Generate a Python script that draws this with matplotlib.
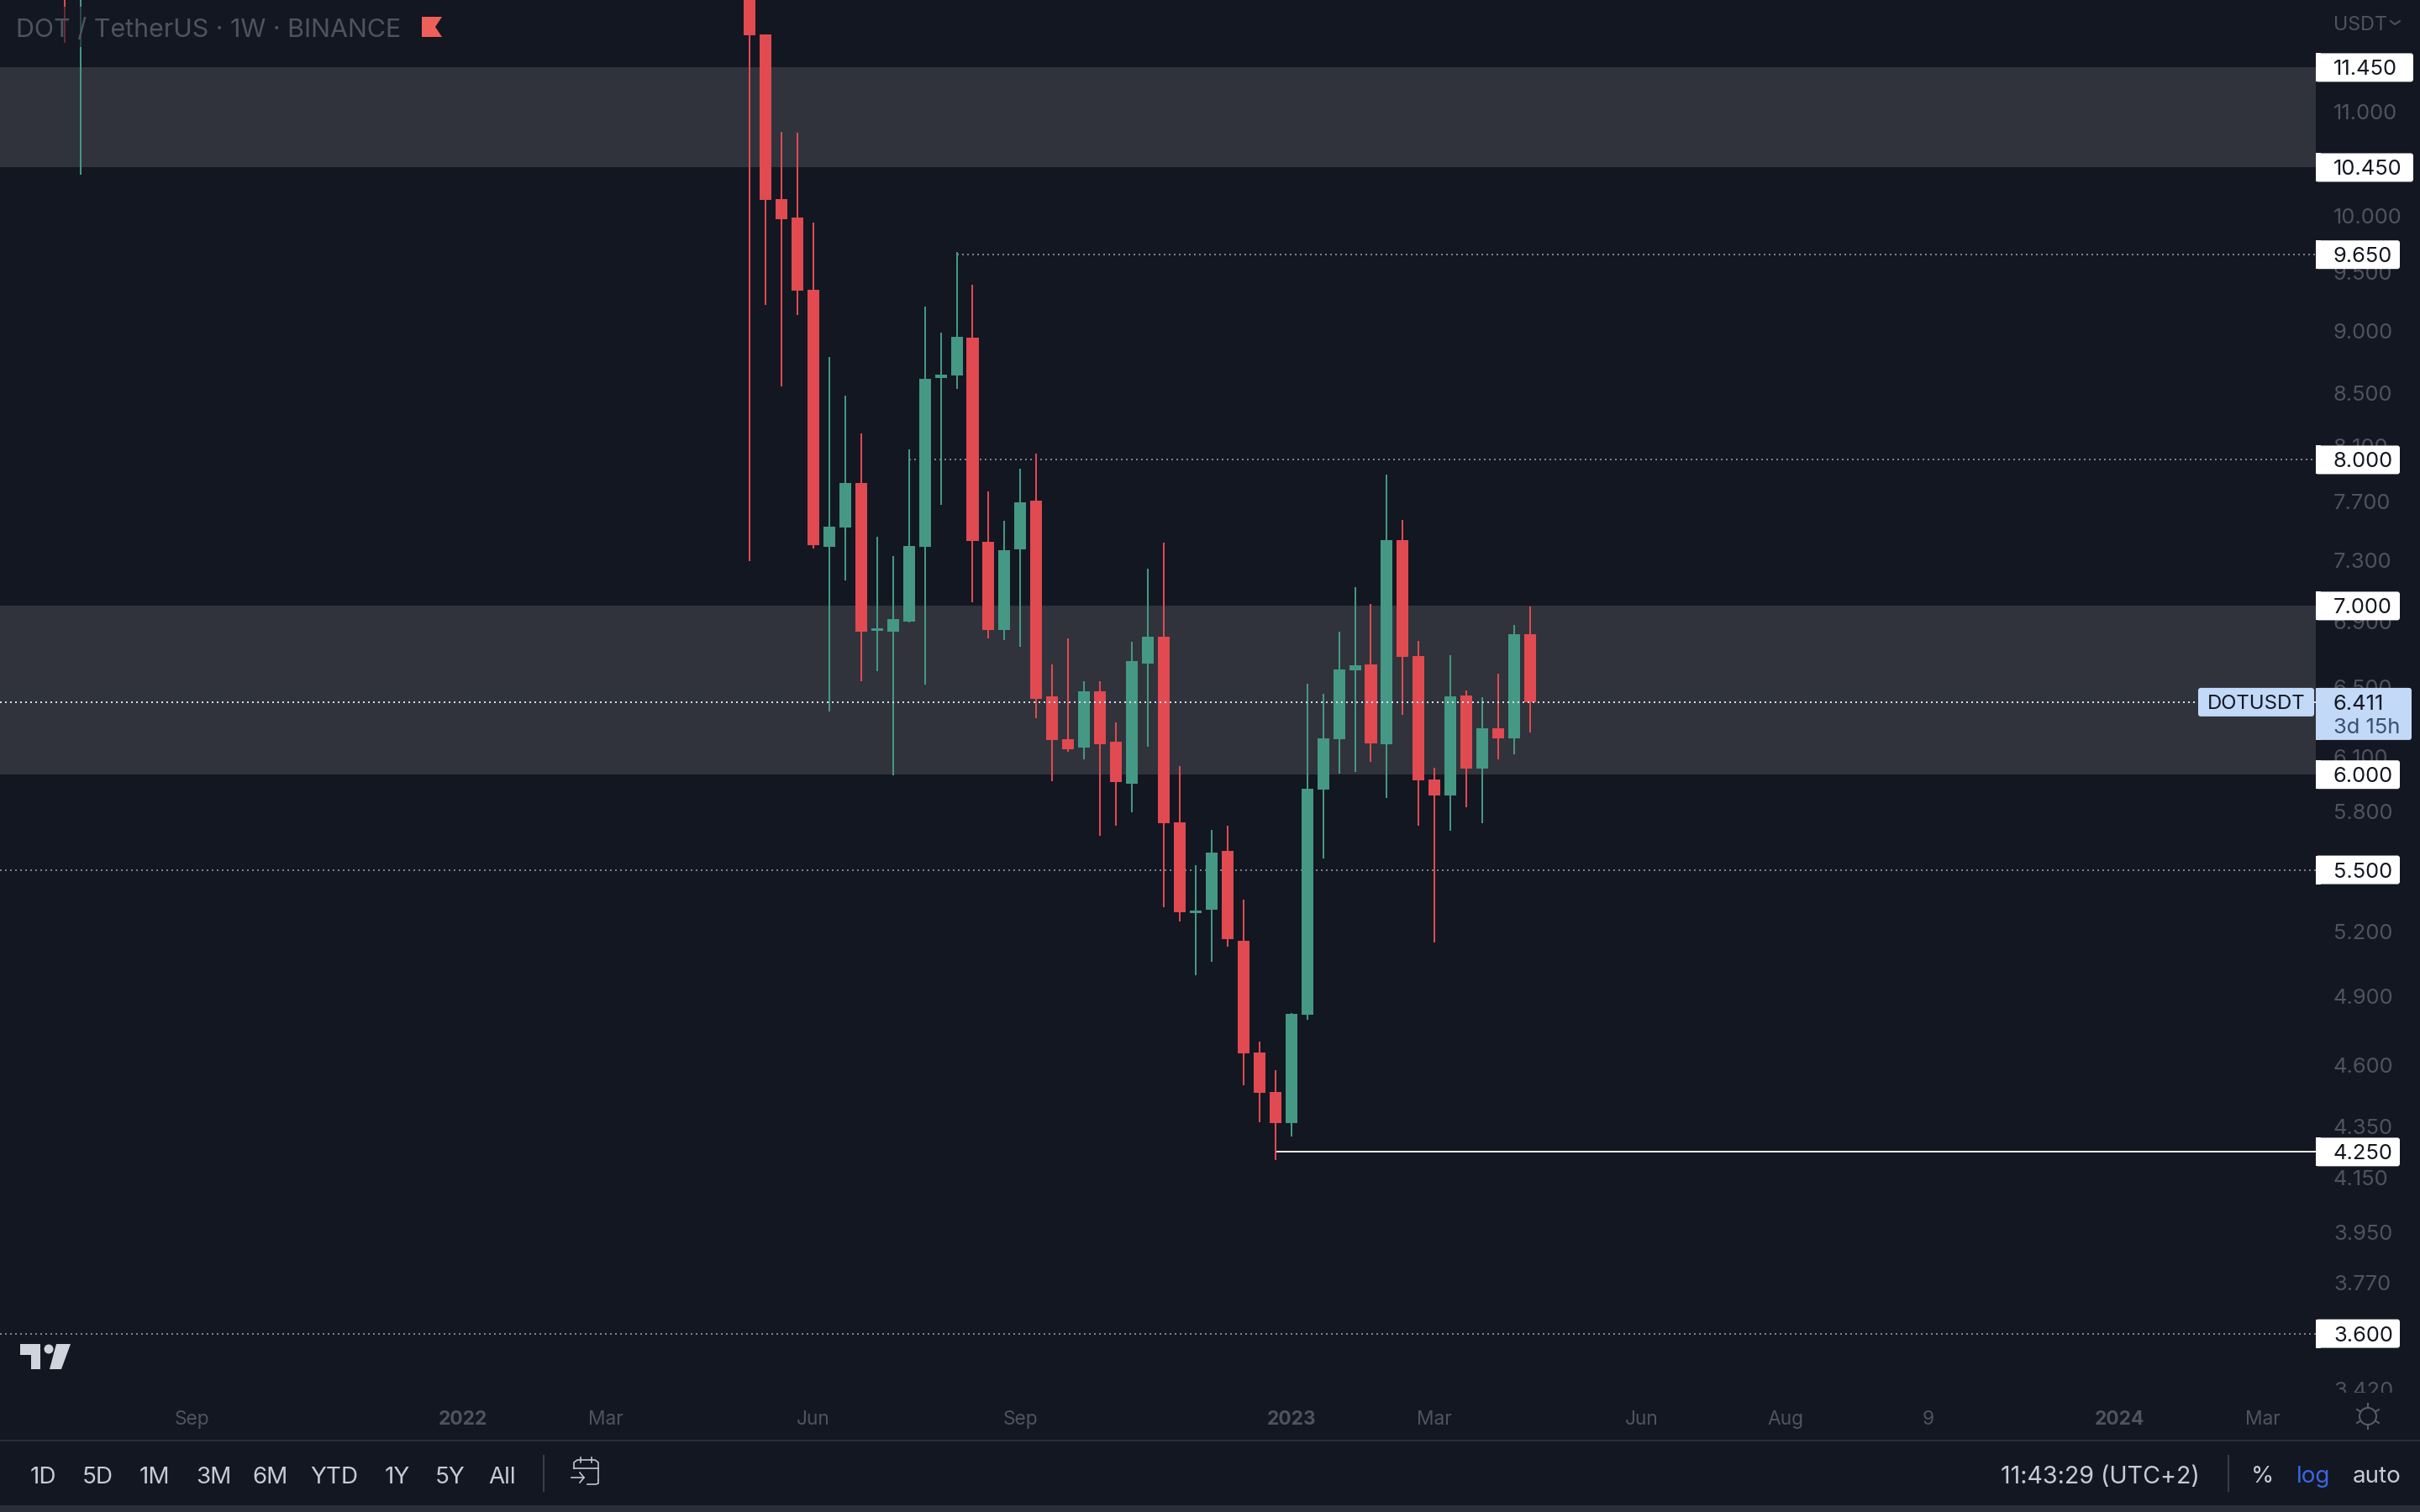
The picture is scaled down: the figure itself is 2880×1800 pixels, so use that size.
import matplotlib
matplotlib.use('Agg')
import matplotlib.pyplot as plt
from matplotlib.patches import Rectangle, FancyBboxPatch, Polygon, Circle
from matplotlib.lines import Line2D
from matplotlib.transforms import Affine2D, Bbox

plt.rcParams['font.family'] = ['Inter', 'DejaVu Sans']

# weekly candles, week number counted from the first candle of the main run
weeks = [-43, -42] + list(range(50))
opens = [14.60, 13.40, 13.20, 11.805, 10.156, 9.986, 9.348, 7.391, 7.523, 7.835, 6.845, 6.839,
         6.903, 7.391, 8.624, 8.644, 8.948, 7.425, 6.850, 7.374, 7.710, 6.447, 6.199, 6.152,
         6.477, 6.185, 5.952, 6.643, 6.808, 5.746, 5.288, 5.305, 5.598, 5.156, 4.656, 4.491,
         4.365, 4.819, 5.920, 6.199, 6.602, 6.638, 6.171, 7.436, 6.689, 5.975, 5.889, 6.452,
         6.035, 6.262, 6.204, 6.824]
highs = [15.00, 14.60, 13.90, 11.805, 10.799, 10.791, 9.940, 8.791, 8.486, 8.198, 7.459, 7.329,
         8.079, 9.206, 8.989, 9.677, 9.391, 7.775, 7.569, 7.938, 8.048, 6.638, 6.798, 6.537,
         6.537, 6.295, 6.777, 7.245, 7.419, 6.049, 5.525, 5.706, 5.728, 5.354, 4.702, 4.581,
         4.827, 6.522, 6.462, 6.839, 7.124, 7.015, 7.895, 7.575, 6.782, 6.040, 6.694, 6.482,
         6.442, 6.582, 6.882, 6.999]
lows = [11.71, 10.38, 7.295, 9.220, 8.558, 9.135, 7.380, 6.358, 7.167, 6.537, 6.597, 5.998,
        6.897, 6.517, 7.680, 8.538, 7.026, 6.798, 6.787, 6.746, 6.319, 5.966, 6.128, 6.086,
        5.676, 5.728, 5.799, 6.157, 5.317, 5.248, 4.996, 5.058, 5.129, 4.518, 4.368, 4.220,
        4.312, 4.797, 5.559, 6.007, 6.017, 6.072, 5.875, 6.339, 5.728, 5.148, 5.702, 5.826,
        5.741, 6.086, 6.114, 6.238]
closes = [13.40, 14.50, 11.796, 10.148, 9.971, 9.341, 7.402, 7.528, 7.835, 6.839, 6.861, 6.919,
          7.397, 8.617, 8.651, 8.955, 7.431, 6.850, 7.368, 7.698, 6.432, 6.195, 6.143, 6.477,
          6.171, 5.961, 6.658, 6.808, 5.741, 5.293, 5.301, 5.589, 5.164, 4.652, 4.487, 4.365,
          4.823, 5.925, 6.204, 6.607, 6.633, 6.176, 7.436, 6.684, 5.970, 5.889, 6.447, 6.035,
          6.262, 6.204, 6.824, 6.411]

zones = [(10.45, 11.45), (6.0, 7.0)]
level_lines = [(13, 9.65), (10, 8.0), (-47.05, 5.5), (-47.05, 3.6)]
low_line = (33, 4.25)
last_price = 6.411

price_ticks = [11.0, 10.0, 9.5, 9.0, 8.5, 8.1, 7.7, 7.3, 6.9, 6.5, 6.1, 5.8, 5.2, 4.9, 4.6,
               4.35, 4.15, 3.95, 3.77, 3.42]
boxed_levels = [11.45, 10.45, 9.65, 8.0, 7.0, 6.0, 5.5, 4.25, 3.6]

time_weeks = [-35, -18, -9, 4, 17, 34, 43, 56, 65, 74, 86, 95]
time_labels = ['Sep', '2022', 'Mar', 'Jun', 'Sep', '2023', 'Mar', 'Jun', 'Aug', '9', '2024', 'Mar']
ranges = ['1D', '5D', '1M', '3M', '6M', 'YTD', '1Y', '5Y', 'All']
range_x = [51, 116, 184, 254, 322, 398, 473, 536, 598]

BG = '#131722'
ZONE = '#30333C'
GREEN = '#459883'
RED = '#E04A50'
MUTED = '#50535E'
LABEL = '#C8CBD4'
LAST = '#C3D9F8'
PX = 72 / 200  # one pixel in points

fig = plt.figure(figsize=(14.4, 9), dpi=200, facecolor=BG)
ax = fig.add_axes([0, 1 - 1658 / 1800, 2756 / 2880, 1658 / 1800], facecolor=BG)
ax.set_yscale('log')
ax.set_xlim(-47.05, 98.31)
ax.set_ylim(3.4106, 12.179)
for s in ax.spines.values():
    s.set_visible(False)

for low, high in zones:
    ax.axhspan(low, high, color=ZONE, lw=0, zorder=1)

dotted = (0, (1, 2))
for start, price in level_lines:
    ax.plot([start, 98.31], [price, price], color='#7E818A', lw=2 * PX, ls=dotted, zorder=2)
ax.plot([low_line[0], 98.31], [low_line[1], low_line[1]], color='#E8E8E8', lw=2 * PX, zorder=2)

for w, o, h, l, c in zip(weeks, opens, highs, lows, closes):
    col = GREEN if c >= o else RED
    ax.vlines(w, l, h, color=col, lw=2 * PX, zorder=3)
    ax.bar(w, abs(c - o), bottom=min(o, c), width=0.74, color=col, lw=0, zorder=4)

ax.axhline(last_price, color='#D4E0F7', lw=2 * PX, ls=dotted, zorder=5)

ax.yaxis.tick_right()
ax.set_yticks(price_ticks, ['%.3f' % p for p in price_ticks])
ax.minorticks_off()
ax.tick_params(axis='y', length=0, pad=21 * PX, labelcolor=MUTED, labelsize=9.2)
for t in ax.get_yticklabels():
    t.set_ha('left')
    t.set_clip_on(True)
    t.set_clip_box(Bbox([[2756, 142], [2880, 1800]]))

ax.set_xticks(time_weeks, time_labels)
ax.tick_params(axis='x', length=0, pad=21 * PX, labelcolor=MUTED, labelsize=8.2)
for t in ax.get_xticklabels():
    if t.get_text().startswith('20'):
        t.set_fontweight('bold')

# chrome is placed in image pixels, origin top left
px = Affine2D().scale(1 / 2880, -1 / 1800).translate(0, 1) + fig.transFigure


def rect(x0, y0, x1, y1, col, z=6, alpha=None):
    fig.add_artist(Rectangle((x0, y0), x1 - x0, y1 - y0, fc=col, ec='none', transform=px, zorder=z, alpha=alpha))


def label(x, y, s, col, size, ha='center', **kw):
    fig.text(x, y, s, color=col, fontsize=size, ha=ha, va='center_baseline', transform=px, zorder=8, **kw)


def price_y(price):
    return 1800 - ax.transData.transform((0, price))[1]


# title, sits on a faint veil over the wicks
rect(0, 8, 540, 56, BG, z=6, alpha=0.6)
label(19, 33, 'DOT / TetherUS · 1W · BINANCE', MUTED, 10.95, ha='left')
fig.add_artist(Polygon([(502, 20), (526, 20), (518, 32), (526, 44), (502, 44)], fc='#EF5F5A', ec='none',
                       transform=px, zorder=8))
label(2777, 27, 'USDT', MUTED, 8.4, ha='left')
fig.add_artist(Line2D([2845, 2850, 2856], [25, 29, 25], color=MUTED, lw=2 * PX, transform=px, zorder=8))

# boxed price levels
for p in boxed_levels:
    y = price_y(p)
    x1 = 2872 if p >= 10 else 2856
    fig.add_artist(FancyBboxPatch((2756, y - 17), x1 - 2756, 34, boxstyle='round,pad=0,rounding_size=3', fc='white',
                                  ec='none', transform=px, zorder=7))
    rect(2756, y - 17, 2762, y + 17, 'white', z=7)
    label(2777, y, '%.3f' % p, '#131722', 9.2, ha='left')

# last price
y = price_y(last_price)
fig.add_artist(FancyBboxPatch((2616, y - 17), 138, 34, boxstyle='round,pad=0,rounding_size=3', fc=LAST, ec='none',
                              transform=px, zorder=7))
fig.add_artist(FancyBboxPatch((2756, y - 17), 114, 62, boxstyle='round,pad=0,rounding_size=3', fc=LAST, ec='none',
                              transform=px, zorder=7))
rect(2756, y - 17, 2762, y + 45, LAST, z=7)
label(2685, y, 'DOTUSDT', '#131722', 8.6)
label(2777, y, '6.411', '#131722', 9.2, ha='left')
label(2777, y + 28, '3d 15h', '#3B4F6E', 9.2, ha='left')

# tradingview mark
for pts in ([(24, 1600), (48, 1600), (48, 1630), (37, 1630), (37, 1613), (24, 1613)],
            [(67, 1600), (84, 1600), (73, 1630), (59, 1630)]):
    fig.add_artist(Polygon(pts, fc='#D1D4DC', ec='none', transform=px, zorder=8))
fig.add_artist(Circle((58, 1606), 5.5, fc='#D1D4DC', ec='none', transform=px, zorder=8))

# sun icon
fig.add_artist(Circle((2818, 1686), 10, fc='none', ec='#5A5D68', lw=2 * PX, transform=px, zorder=8))
for dx, dy in [(0, -15), (0, 15), (-13, -8), (13, -8), (-13, 8), (13, 8)]:
    fig.add_artist(Line2D([2818 + dx * 0.72, 2818 + dx], [1686 + dy * 0.72, 1686 + dy], color='#5A5D68', lw=2 * PX,
                          transform=px, zorder=8))

# bottom toolbar
rect(0, 1714, 2880, 1716, '#2A2E39')
rect(0, 1792, 2880, 1800, '#2A2E39')
for x, s in zip(range_x, ranges):
    label(x, 1756, s, LABEL, 10)
rect(646, 1732, 648, 1776, '#3A3E49')
rect(2651, 1732, 2653, 1776, '#3A3E49')
label(2381, 1755, '11:43:29 (UTC+2)', LABEL, 10.3, ha='left')
label(2692, 1755, '%', LABEL, 10)
label(2753, 1755, 'log', '#3A66E0', 10)
label(2829, 1755, 'auto', LABEL, 10)

# go-to-date icon
for xs, ys in [([683, 683, 687, 708, 712, 712], [1748, 1741, 1738, 1738, 1741, 1762]),
               ([683, 712], [1748, 1748]),
               ([691, 691], [1735, 1741]),
               ([704, 704], [1735, 1741]),
               ([712, 712, 709, 699], [1762, 1766, 1767, 1767]),
               ([680, 695], [1759, 1759]),
               ([690, 695, 690], [1753, 1759, 1765])]:
    fig.add_artist(Line2D(xs, ys, color=LABEL, lw=1.6 * PX, transform=px, zorder=8))

fig.savefig('out.png', facecolor=BG)
